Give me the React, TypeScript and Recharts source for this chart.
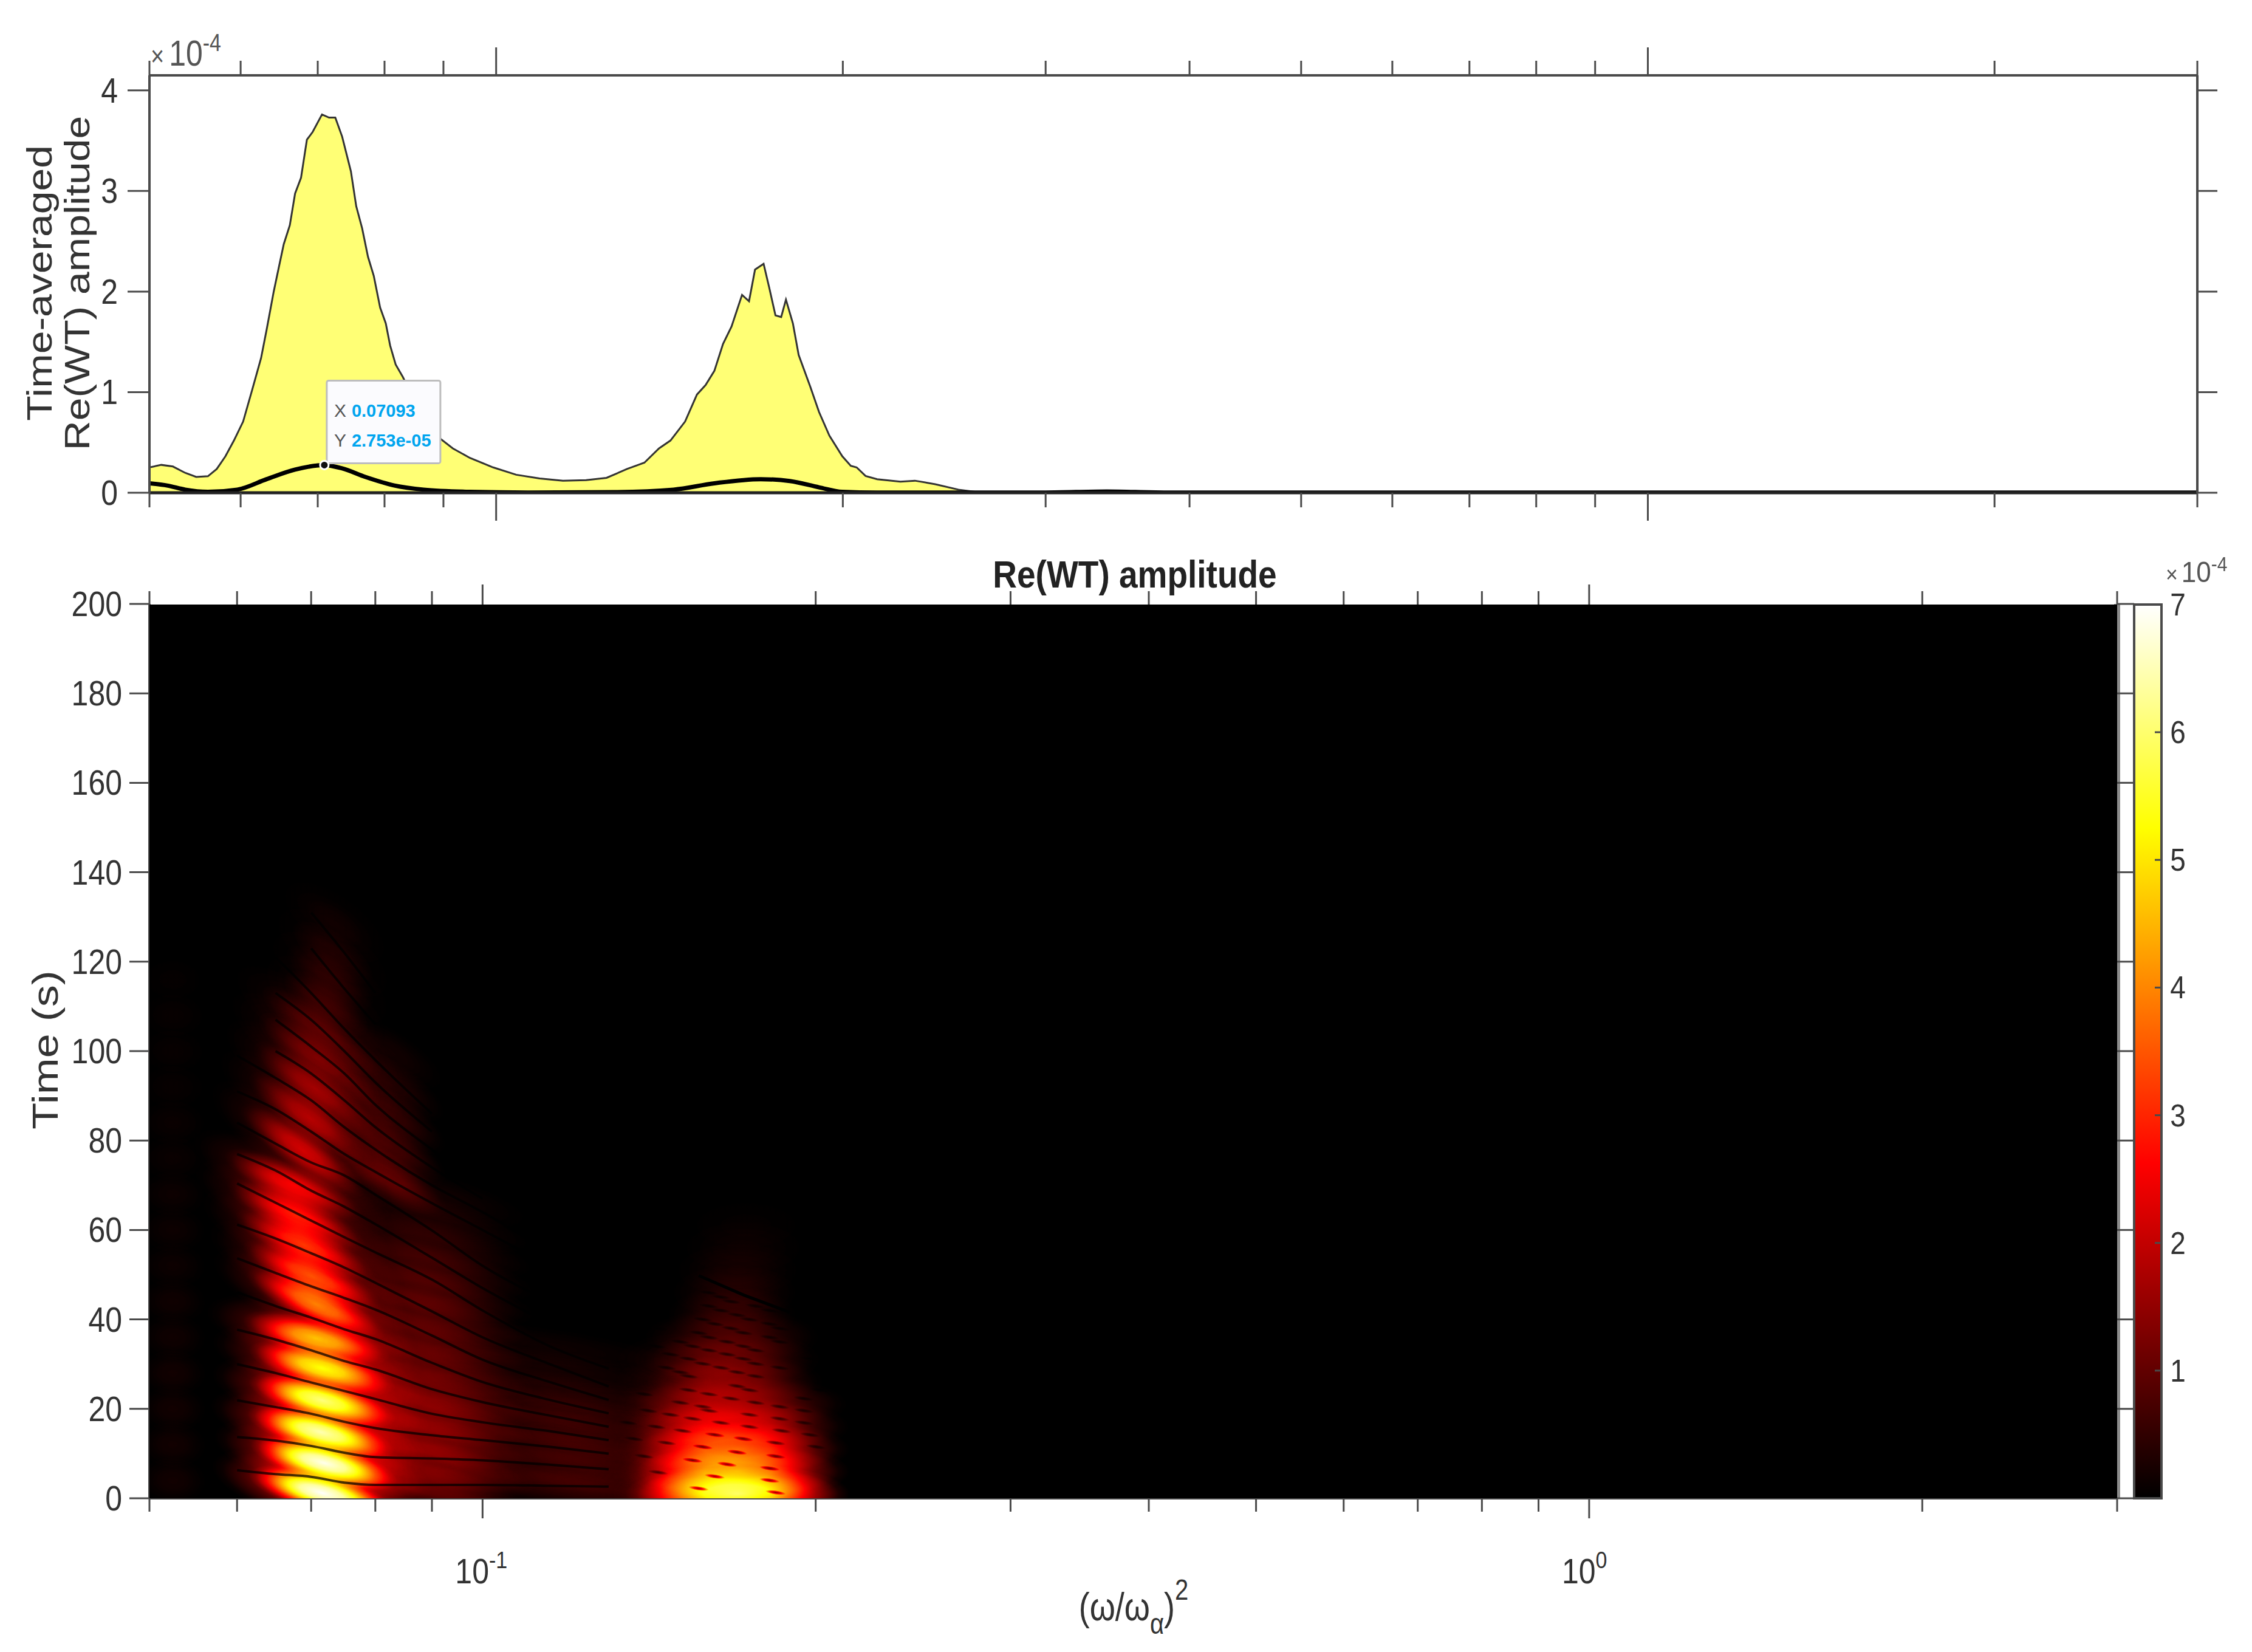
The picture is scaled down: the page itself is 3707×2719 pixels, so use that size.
import { ComposedChart, BarChart, Area, Line, Bar, Scatter, XAxis, YAxis, ReferenceDot } from 'recharts'

// averaged spectrum (amplitudes in units of 1e-4)
const spectrumFreq = [0.05, 0.0512, 0.0524, 0.0537, 0.0549, 0.0562, 0.0572, 0.0582, 0.0592, 0.0603, 0.0614, 0.0625, 0.0632, 0.0641, 0.0647, 0.0654, 0.0662, 0.0669, 0.0677, 0.0685, 0.0693, 0.0706, 0.0716, 0.0725, 0.0735, 0.0748, 0.0756, 0.0765, 0.0774, 0.0783, 0.0793, 0.0802, 0.0809, 0.0818, 0.083, 0.0835, 0.0855, 0.0875, 0.0895, 0.0917, 0.0949, 0.0994, 0.1041, 0.1091, 0.1143, 0.1197, 0.1247, 0.1299, 0.1345, 0.1385, 0.1417, 0.1459, 0.1494, 0.152, 0.1547, 0.1574, 0.1601, 0.1635, 0.1658, 0.1678, 0.1707, 0.1727, 0.1748, 0.1768, 0.1785, 0.181, 0.1831, 0.1874, 0.1907, 0.1947, 0.1998, 0.2032, 0.2056, 0.2093, 0.2142, 0.2244, 0.231, 0.2406, 0.252, 0.2641, 0.3, 0.339, 0.38, 3]
const spectrumAmp = [0.252, 0.277, 0.261, 0.198, 0.157, 0.164, 0.236, 0.362, 0.519, 0.708, 1.023, 1.338, 1.621, 1.999, 2.219, 2.471, 2.66, 2.975, 3.132, 3.51, 3.588, 3.761, 3.73, 3.73, 3.541, 3.195, 2.849, 2.628, 2.345, 2.156, 1.841, 1.684, 1.464, 1.275, 1.149, 1.086, 0.834, 0.677, 0.535, 0.441, 0.346, 0.252, 0.179, 0.142, 0.12, 0.126, 0.148, 0.236, 0.299, 0.441, 0.519, 0.708, 0.976, 1.07, 1.212, 1.479, 1.653, 1.967, 1.904, 2.219, 2.276, 2.03, 1.763, 1.747, 1.92, 1.684, 1.369, 1.054, 0.803, 0.567, 0.362, 0.268, 0.252, 0.167, 0.135, 0.11, 0.12, 0.085, 0.031, 0, 0, 0.012, 0, 0]

const meanFreq = [0.05, 0.0518, 0.0537, 0.0562, 0.0596, 0.0632, 0.0669, 0.0708, 0.0735, 0.077, 0.0816, 0.0865, 0.0949, 0.1066, 0.1269, 0.1426, 0.1547, 0.1697, 0.1799, 0.1907, 0.1998, 0.2142, 0.3, 0.339, 0.38, 1, 3]
const meanAmp = [0.094, 0.072, 0.031, 0.009, 0.031, 0.135, 0.23, 0.275, 0.242, 0.157, 0.072, 0.031, 0.009, 0.002, 0.006, 0.031, 0.094, 0.135, 0.116, 0.054, 0.009, 0.001, 0.002, 0.012, 0.002, 0.001, 0.001]

// bright lobes of the time-frequency map, low branch
const coreFreq = [0.0716, 0.0719, 0.0714, 0.0716, 0.0716, 0.0707, 0.0707, 0.0701, 0.069, 0.0679, 0.0675, 0.0688, 0.0699, 0.0706, 0.0712, 0.0716, 0.0722, 0.0728, 0.0732, 0.0735]
const coreTime = [1.2, 7.9, 14.8, 21.9, 29.1, 35.8, 43.4, 49.7, 56.6, 63.3, 70, 77.7, 84.9, 91.6, 98.2, 104.4, 110.6, 116.4, 122, 128.8]
const coreAmp = [7, 6.8, 6.2, 5.7, 4.7, 3.9, 3.2, 2.6, 2.4, 2.2, 2, 1.7, 1.4, 1.2, 0.9, 0.65, 0.45, 0.3, 0.22, 0.12]

const tailFreq = [0.0885, 0.0885, 0.0885, 0.0885, 0.0885, 0.0885, 0.0885, 0.0885, 0.0885, 0.0885, 0.0885, 0.0885, 0.0885]
const tailTime = [2.9, 8.6, 13.8, 19.1, 24.3, 30, 35.8, 41.5, 46.7, 52, 57.2, 62.5, 68]
const tailAmp = [1.1, 1.2, 1.2, 1.2, 1.1, 1, 0.9, 0.8, 0.7, 0.6, 0.45, 0.3, 0.2]

const riseFreq = [0.082, 0.082, 0.082, 0.082, 0.082]
const riseTime = [72, 79, 86, 93, 100]
const riseAmp = [0.9, 0.7, 0.55, 0.35, 0.2]

const farFreq = [0.1149, 0.1149, 0.1149, 0.1149, 0.1149, 0.1149, 0.1149, 0.1149, 0.135, 0.135, 0.135, 0.135, 0.135]
const farTime = [2.4, 6.7, 11.4, 15.7, 20, 24.3, 29.1, 33.9, 2, 7, 12, 17, 22]
const farAmp = [0.42, 0.45, 0.5, 0.45, 0.4, 0.3, 0.22, 0.15, 0.3, 0.3, 0.25, 0.2, 0.1]

const edgeFreq = [0.0525, 0.0525, 0.0525, 0.0525, 0.0525, 0.0525, 0.0525, 0.0525, 0.0525, 0.0525, 0.0525, 0.0525, 0.0525, 0.0525, 0.0525]
const edgeTime = [4, 12, 20, 28, 36, 44, 52, 60, 68, 76, 84, 92, 100, 108, 116]
const edgeAmp = [0.2, 0.2, 0.19, 0.18, 0.17, 0.16, 0.15, 0.14, 0.13, 0.12, 0.1, 0.09, 0.08, 0.07, 0.05]

// second branch, a dome around 0.17
const domeFreq = [0.17, 0.17, 0.17, 0.17, 0.1695, 0.169, 0.168, 0.168, 0.168, 0.169, 0.17, 0.172, 0.173]
const domeTime = [1, 6, 11, 16, 21, 26, 31, 36, 41, 46, 51, 56, 61]
const domeAmp = [5.8, 3.6, 2.9, 1.9, 1.3, 1, 0.8, 0.6, 0.42, 0.28, 0.16, 0.1, 0.05]

const skirtFreq = [0.152, 0.152, 0.152, 0.152, 0.152, 0.152, 0.152]
const skirtTime = [1, 6, 11, 16, 21, 26, 31]
const skirtAmp = [1, 0.9, 0.7, 0.6, 0.45, 0.35, 0.22]

// interference nulls across the dome
const latticeFreq = [0.1568, 0.184, 0.1621, 0.1817, 0.1441, 0.1817, 0.1663, 0.1548, 0.1399, 0.184, 0.1698, 0.1581, 0.2002, 0.1466, 0.184, 0.137, 0.172, 0.1621, 0.1976, 0.1516, 0.1863, 0.1435, 0.1742, 0.1642, 0.1353, 0.1951, 0.1548, 0.1855, 0.1478, 0.1742, 0.1411, 0.1601, 0.1951, 0.1581, 0.1855, 0.1509, 0.1764, 0.1677, 0.1951, 0.1601, 0.1399, 0.1535, 0.1742, 0.2018, 0.1698, 0.1535, 0.1764, 0.1698, 0.1509, 0.1466, 0.1642, 0.1855, 0.1581, 0.1764, 0.1535, 0.172, 0.1976, 0.1663, 0.1478, 0.1601, 0.1764, 0.1548, 0.172, 0.1435, 0.1663, 0.1509, 0.1855, 0.1601, 0.1817, 0.1568, 0.172, 0.1441, 0.1677, 0.1855, 0.1621, 0.1817, 0.1581, 0.1742, 0.1698, 0.1642, 0.1817, 0.1601, 0.1764, 0.1677, 0.1642, 0.1601]
const latticeTime = [2.2, 1.3, 4.9, 4, 5.8, 6.7, 7.6, 8.5, 9.4, 9.4, 10.3, 11.5, 11.5, 12.4, 12.4, 13.3, 13.3, 14.2, 14.2, 15.1, 15.1, 16, 16, 16.9, 16.9, 16.9, 17.8, 17.8, 18.7, 18.7, 19.6, 19.6, 19.6, 20.5, 20.5, 21.4, 21.4, 22.3, 22.3, 23.3, 23.3, 24.2, 24.2, 24.2, 25.1, 27.3, 27.3, 28.2, 28.2, 29.2, 29.2, 29.2, 30.1, 30.1, 31.2, 31.2, 31.2, 32.2, 32.2, 33.1, 33.1, 34, 34, 34, 35, 35, 35, 36, 36, 37, 37, 38, 38, 38, 39, 39, 40, 40, 41, 42, 42, 43, 43, 44, 45, 46]

const lobeRows = (kind: string, freq: number[], time: number[], amp: number[]) =>
  freq.map((f, i) => ({ kind, freq: f, time: time[i], amp: amp[i] }))

const lobes = [
  ...lobeRows('edge', edgeFreq, edgeTime, edgeAmp),
  ...lobeRows('far', farFreq, farTime, farAmp),
  ...lobeRows('tail', tailFreq, tailTime, tailAmp),
  ...lobeRows('rise', riseFreq, riseTime, riseAmp),
  ...lobeRows('core', coreFreq, coreTime, coreAmp),
  ...lobeRows('skirt', skirtFreq, skirtTime, skirtAmp),
  ...lobeRows('dome', domeFreq, domeTime, domeAmp),
  ...latticeFreq.map((f, i) => ({ kind: 'null', freq: f, time: latticeTime[i], amp: 5 })),
]

// dark stripes: one time list per stripe, sampled at stripeFreq
const stripeFreq = [0.06, 0.065, 0.07, 0.075, 0.08, 0.09, 0.1, 0.115, 0.13]
const stripeTimes = [
  [6.3, 5.4, 4.8, 3.5, 3, 3, 3, 2.8, 2.6],
  [13.7, 12.9, 11.7, 10.2, 9.2, 8.9, 8.5, 7.5, 6.5],
  [21.9, 20.4, 18.9, 17.1, 15.7, 14.1, 13, 11.5, 10],
  [30, 28, 25.9, 24, 22.2, 18.9, 17, 15, 13],
  [37.7, 35.5, 33.1, 30.7, 28.8, 24.4, 21.5, 18.5, 16],
  [46.1, 43, 40.4, 37.8, 35.6, 30.3, 26, 22, 19],
  [53.7, 50.4, 47.4, 44.8, 42.2, 36.4, 31, 26, 22],
  [61.2, 58.1, 54.8, 51.6, 48.2, 41.8, 36, 30, 25],
  [70.4, 66.1, 62.1, 58.4, 55, 48.9, 42, 34, 29],
  [77, 73.3, 68.8, 65.2, 61.3, 53.8, 47, 39, null],
  [84, 79.3, 75.1, 72.2, 67.9, 59.9, 52, 44, null],
  [91, 87, 82, 77, 73, 66, 60, 52, null],
  [99, 94, 89, 83, 78, 70, 64, 55, null],
  [null, 100, 95, 89, 83, 74, 67, null, null],
  [null, 107, 101, 95, 88, 78, 70, null, null],
  [null, 113, 107, 100, 93, 82, null, null, null],
  [null, 121, 113, 105, 98, 86, null, null, null],
  [null, null, 123, 114, 106, null, null, null, null],
  [null, null, 131, 122, 113, null, null, null, null],
]
const domeLineFreq = [0.1568, 0.172, 0.1895]
const domeLineTime = [49.8, 45.5, 41.6]

const LOBE_STYLE: Record<string, { rx: number; ry: number; angle: number; glow: number }> = {
  edge: { rx: 60, ry: 42, angle: 3, glow: 0 },
  far: { rx: 230, ry: 34, angle: 8, glow: 0 },
  tail: { rx: 190, ry: 42, angle: 14, glow: 0 },
  rise: { rx: 115, ry: 40, angle: 32, glow: 0 },
  core: { rx: 125, ry: 34, angle: 15, glow: 0.36 },
  skirt: { rx: 120, ry: 48, angle: 0, glow: 0 },
  dome: { rx: 185, ry: 50, angle: 0, glow: 0 },
  null: { rx: 17, ry: 3.5, angle: 8, glow: 0 },
}

const tilt = (kind: string, time: number) => {
  if (kind !== 'core') return LOBE_STYLE[kind].angle
  return time < 38 ? 15 : time < 75 ? 25 : 36
}

// both ridges narrow towards late times
const narrowing = (kind: string, time: number) => {
  if (kind === 'core' && time > 105) return 0.7
  if (kind === 'dome' && time > 40) return 0.6
  if (kind === 'dome' && time > 22) return 0.8
  return 1
}

const xTicks = [0.05, 0.06, 0.07, 0.08, 0.09, 0.1, 0.2, 0.3, 0.4, 0.5, 0.6, 0.7, 0.8, 0.9, 1, 2, 3]
const topYTicks = [0, 1, 2, 3, 4]
const timeTicks = [0, 20, 40, 60, 80, 100, 120, 140, 160, 180, 200]
const colorTicks = [1, 2, 3, 4, 5, 6, 7]
const colorRows = [{ name: 'amp', top: 7 }]

const WIDTH = 3707
const AXIS = '#4a4a4a'
const TEXT = '#333333'
const FONT = '"Liberation Sans", Arial, sans-serif'
const TICK_FONT = 50

const top = { left: 246, right: 3617, top: 124, bottom: 811 }
const TOP_H = 900
const low = { left: 246, right: 3485, top: 995 - TOP_H, bottom: 2466 - TOP_H }
const LOW_H = 2719 - TOP_H

const isMajor = (v: number) => v === 0.1 || v === 1

// the lower axis also draws the matching ticks above the plot box
const xTick = (major: number, minor: number, plotH: number, labelled: boolean) => (props: any) => {
  const { x, y, payload } = props
  const big = isMajor(payload.value)
  const len = big ? major : minor
  return (
    <g>
      <line x1={x} x2={x} y1={y} y2={y + len} stroke={AXIS} strokeWidth={3} />
      <line x1={x} x2={x} y1={y - plotH} y2={y - plotH - len} stroke={AXIS} strokeWidth={3} />
      {labelled && big && (
        <text transform={`translate(${x - 45} ${y + 140}) scale(1 1.15)`} fontSize={TICK_FONT} fill={TEXT}>
          10
          <tspan fontSize={34} dy={-22}>{payload.value === 1 ? '0' : '-1'}</tspan>
        </text>
      )}
    </g>
  )
}

const yTick = (dir: number, len: number, labelled: boolean, labelX: number) => (props: any) => {
  const { x, y, payload } = props
  return (
    <g>
      <line x1={x} x2={x + dir * len} y1={y} y2={y} stroke={AXIS} strokeWidth={3} />
      {labelled && (
        <text transform={`translate(${labelX} ${y + 20}) scale(1 1.15)`} textAnchor="end" fontSize={TICK_FONT} fill={TEXT}>
          {payload.value}
        </text>
      )}
    </g>
  )
}

const colorTick = (props: any) => {
  const { x, y, payload } = props
  return (
    <g>
      {payload.value < 7 && <line x1={x} x2={x - 11} y1={y} y2={y} stroke={AXIS} strokeWidth={3} />}
      <text transform={`translate(${x + 27} ${y + 18}) scale(1 1.12)`} textAnchor="middle" fontSize={46} fill={TEXT}>
        {payload.value}
      </text>
    </g>
  )
}

function Lobe(props: any) {
  const { cx, cy, payload } = props
  const s = LOBE_STYLE[payload.kind]
  const turn = `rotate(${tilt(payload.kind, payload.time)} ${cx} ${cy})`
  const alpha = Math.min(payload.amp / 7, 1)
  if (payload.kind === 'null') {
    return <ellipse cx={cx} cy={cy} rx={s.rx} ry={s.ry} fill="url(#lobeNull)" transform={turn} />
  }
  const narrow = narrowing(payload.kind, payload.time)
  return (
    <g transform={turn}>
      {s.glow > 0 && <ellipse cx={cx} cy={cy} rx={s.rx * 1.5 * narrow} ry={s.ry * 1.7} fill="url(#lobeGlow)" fillOpacity={alpha * s.glow} />}
      <ellipse cx={cx} cy={cy} rx={s.rx * narrow} ry={s.ry} fill="url(#lobeGlow)" fillOpacity={alpha} />
    </g>
  )
}

function DataTip(props: any) {
  const { cx, cy } = props
  return (
    <g>
      <rect x={cx + 4} y={cy - 139} width={187} height={136} rx={3} fill="#fbfbfe" stroke="#bdbdbd" strokeWidth={3} />
      <text x={cx + 16} y={cy - 79} fontSize={30} fill="#555555">X</text>
      <text x={cx + 45} y={cy - 79} fontSize={29} fontWeight="bold" fill="#00a5ef">0.07093</text>
      <text x={cx + 16} y={cy - 30} fontSize={30} fill="#555555">Y</text>
      <text x={cx + 45} y={cy - 30} fontSize={29} fontWeight="bold" fill="#00a5ef">2.753e-05</text>
      <circle cx={cx} cy={cy} r={7} fill="#111111" stroke="#ffffff" strokeWidth={3} />
    </g>
  )
}

function SpectrumPanel() {
  const rows = spectrumFreq.map((freq, i) => ({ freq, amp: spectrumAmp[i] }))
  const meanRows = meanFreq.map((freq, i) => ({ freq, amp: meanAmp[i] }))
  return (
    <ComposedChart
      width={WIDTH}
      height={TOP_H}
      margin={{ left: top.left - 1, right: WIDTH - top.right - 1, top: top.top - 1, bottom: TOP_H - top.bottom - 1 }}
      style={{ position: 'absolute', left: 0, top: 0 }}
    >
      <XAxis xAxisId="b" dataKey="freq" type="number" scale="log" domain={[0.05, 3]} allowDataOverflow ticks={xTicks} interval={0} height={1} tickSize={0} tickMargin={0} tickLine={false} stroke="#222222" strokeWidth={5} tick={xTick(46, 24, top.bottom - top.top, false)} />
      <XAxis xAxisId="t" orientation="top" type="number" scale="log" domain={[0.05, 3]} allowDataOverflow ticks={[]} height={1} tickSize={0} tickLine={false} stroke={AXIS} strokeWidth={4} tick={false} />
      <YAxis yAxisId="l" dataKey="amp" type="number" domain={[0, 4.15]} allowDataOverflow ticks={topYTicks} interval={0} width={1} tickSize={0} tickMargin={0} tickLine={false} stroke={AXIS} strokeWidth={4} tick={yTick(-1, 36, true, 194)} />
      <YAxis yAxisId="r" orientation="right" type="number" domain={[0, 4.15]} allowDataOverflow ticks={topYTicks} interval={0} width={1} tickSize={0} tickMargin={0} tickLine={false} stroke={AXIS} strokeWidth={4} tick={yTick(1, 33, false, 0)} />
      <Area xAxisId="b" yAxisId="l" data={rows} dataKey="amp" type="linear" baseValue={0} stroke="#333333" strokeWidth={3} fill="#ffff75" fillOpacity={1} dot={false} activeDot={false} isAnimationActive={false} />
      <Line xAxisId="b" yAxisId="l" data={meanRows} dataKey="amp" type="monotone" stroke="#000000" strokeWidth={7} dot={false} activeDot={false} isAnimationActive={false} />
      <ReferenceDot xAxisId="b" yAxisId="l" x={0.07093} y={0.2753} r={7} shape={DataTip} ifOverflow="visible" />
      <text transform="translate(248 108) scale(1 1.2)" fontSize={38} fill="#555555">×<tspan dx={8} fontSize={50}>10</tspan><tspan fontSize={34} dy={-20}>-4</tspan></text>
      <text transform="translate(85 466) rotate(-90) scale(1.17 1)" textAnchor="middle" fontSize={58} fill={TEXT}>Time-averaged</text>
      <text transform="translate(147 466) rotate(-90) scale(1.17 1)" textAnchor="middle" fontSize={58} fill={TEXT}>Re(WT) amplitude</text>
    </ComposedChart>
  )
}

function MapPanel() {
  return (
    <ComposedChart
      width={WIDTH}
      height={LOW_H}
      data={lobes}
      margin={{ left: low.left - 1, right: WIDTH - low.right - 1, top: low.top - 1, bottom: LOW_H - low.bottom - 1 }}
      style={{ position: 'absolute', left: 0, top: TOP_H }}
    >
      <defs>
        <radialGradient id="lobeGlow">
          <stop offset="0%" stopColor="#fff" stopOpacity={1} />
          <stop offset="30%" stopColor="#fff" stopOpacity={0.85} />
          <stop offset="50%" stopColor="#fff" stopOpacity={0.58} />
          <stop offset="70%" stopColor="#fff" stopOpacity={0.28} />
          <stop offset="90%" stopColor="#fff" stopOpacity={0.05} />
          <stop offset="100%" stopColor="#fff" stopOpacity={0} />
        </radialGradient>
        <radialGradient id="lobeNull">
          <stop offset="0%" stopColor="#000" stopOpacity={0.7} />
          <stop offset="55%" stopColor="#000" stopOpacity={0.42} />
          <stop offset="100%" stopColor="#000" stopOpacity={0} />
        </radialGradient>
        <filter id="hotMap" filterUnits="userSpaceOnUse" x={low.left} y={low.top} width={low.right - low.left} height={low.bottom - low.top} colorInterpolationFilters="sRGB">
          <feFlood floodColor="#000000" result="bg" />
          <feMerge result="flat">
            <feMergeNode in="bg" />
            <feMergeNode in="SourceGraphic" />
          </feMerge>
          <feComponentTransfer in="flat">
            <feFuncR type="table" tableValues="0 0.333 0.667 1 1 1 1 1 1" />
            <feFuncG type="table" tableValues="0 0 0 0 0.333 0.667 1 1 1" />
            <feFuncB type="table" tableValues="0 0 0 0 0 0 0 0.5 1" />
          </feComponentTransfer>
        </filter>
      </defs>
      <XAxis xAxisId="b" dataKey="freq" type="number" scale="log" domain={[0.05, 3]} allowDataOverflow ticks={xTicks} interval={0} height={1} tickSize={0} tickMargin={0} tickLine={false} stroke={AXIS} strokeWidth={4} tick={xTick(33, 22, low.bottom - low.top, true)} />
      <YAxis yAxisId="l" dataKey="time" type="number" domain={[0, 200]} allowDataOverflow ticks={timeTicks} interval={0} width={1} tickSize={0} tickMargin={0} tickLine={false} stroke={AXIS} strokeWidth={4} tick={yTick(-1, 33, true, 201)} />
      <YAxis yAxisId="r" orientation="right" type="number" domain={[0, 200]} allowDataOverflow ticks={timeTicks} interval={0} width={1} tickSize={0} tickMargin={0} tickLine={false} stroke="#8c8c8c" strokeWidth={10} tick={yTick(1, 28, false, 0)} />
      <Scatter xAxisId="b" yAxisId="l" data={lobes} shape={Lobe} isAnimationActive={false} />
      {stripeTimes.map((times, k) => (
        <Line
          key={k}
          xAxisId="b"
          yAxisId="l"
          data={stripeFreq.map((freq, i) => ({ freq, time: times[i] }))}
          dataKey="time"
          type="monotone"
          stroke="#000000"
          strokeOpacity={0.72}
          strokeWidth={4}
          dot={false}
          activeDot={false}
          isAnimationActive={false}
          zIndex={700}
        />
      ))}
      <Line xAxisId="b" yAxisId="l" data={domeLineFreq.map((freq, i) => ({ freq, time: domeLineTime[i] }))} dataKey="time" type="linear" stroke="#000000" strokeWidth={5} dot={false} activeDot={false} isAnimationActive={false} zIndex={700} />
      <text transform="translate(1868 67) scale(1 1.15)" textAnchor="middle" fontSize={55} fontWeight="bold" fill="#222222">Re(WT) amplitude</text>
      <text transform="translate(95 828) rotate(-90) scale(1.2 1)" textAnchor="middle" fontSize={60} fill={TEXT}>Time (s)</text>
      <text transform="translate(1866 1767) scale(1 1.2)" textAnchor="middle" fontSize={54} fill={TEXT}>
        (ω/ω<tspan fontSize={40} dy={18}>α</tspan><tspan dy={-18}>)</tspan><tspan fontSize={40} dy={-28}>2</tspan>
      </text>
    </ComposedChart>
  )
}

function ColorBar() {
  return (
    <BarChart
      width={207}
      height={LOW_H}
      data={colorRows}
      barCategoryGap={0}
      margin={{ left: 13, right: 148, top: low.top, bottom: LOW_H - low.bottom }}
      style={{ position: 'absolute', left: 3500, top: TOP_H }}
    >
      <defs>
        <linearGradient id="hotBar" x1="0" y1="1" x2="0" y2="0">
          <stop offset="0%" stopColor="#000000" />
          <stop offset="37.5%" stopColor="#ff0000" />
          <stop offset="75%" stopColor="#ffff00" />
          <stop offset="100%" stopColor="#ffffff" />
        </linearGradient>
      </defs>
      <XAxis dataKey="name" hide />
      <YAxis orientation="right" type="number" domain={[0, 7]} ticks={colorTicks} interval={0} width={1} tickSize={0} tickMargin={0} tickLine={false} axisLine={false} tick={colorTick} />
      <Bar dataKey="top" fill="url(#hotBar)" stroke={AXIS} strokeWidth={4} isAnimationActive={false} />
      <text transform="translate(65 58) scale(1 1.1)" fontSize={34} fill="#555555">×<tspan dx={6} fontSize={44}>10</tspan><tspan fontSize={30} dy={-16}>-4</tspan></text>
    </BarChart>
  )
}

export default function App() {
  return (
    <div style={{ position: 'absolute', left: 0, top: 0, width: WIDTH, height: 2719, background: '#fff', fontFamily: FONT, overflow: 'hidden' }}>
      <style>{`.recharts-scatter{filter:url(#hotMap)}`}</style>
      <SpectrumPanel />
      <MapPanel />
      <ColorBar />
    </div>
  )
}
